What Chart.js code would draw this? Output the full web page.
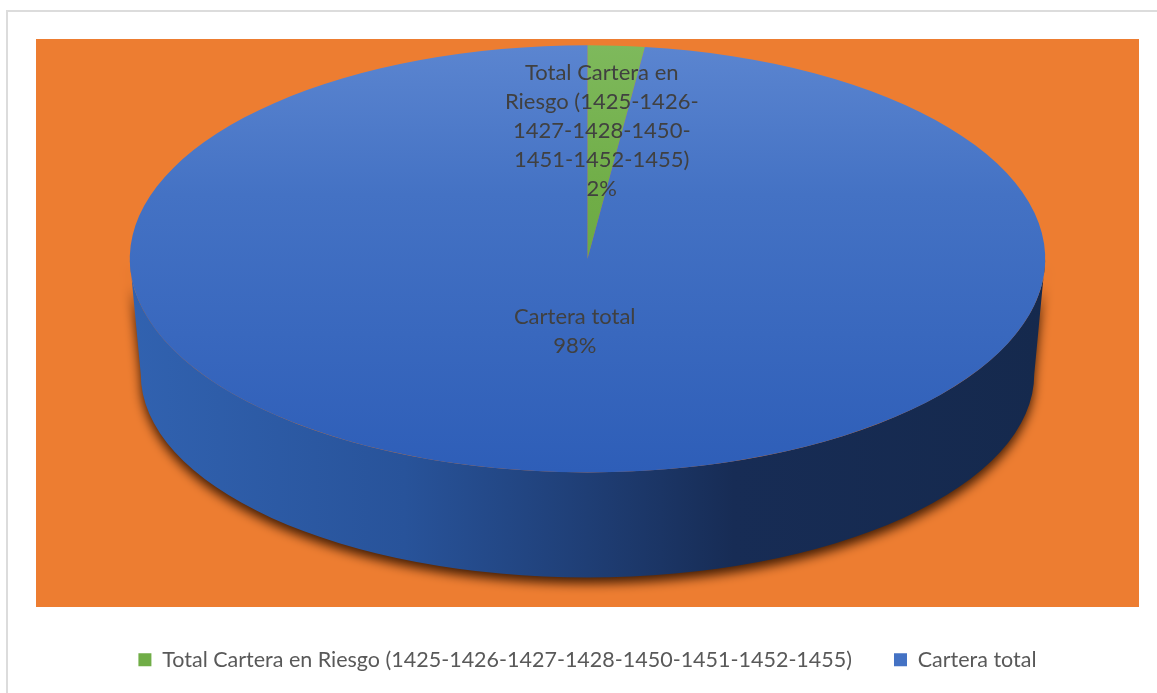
<!DOCTYPE html>
<html lang="es">
<head>
<meta charset="utf-8">
<title>Cartera total y cartera en riesgo</title>
<script src="https://cdn.jsdelivr.net/npm/chart.js@4.4.1/dist/chart.umd.min.js"></script>
<style>
  html, body { margin: 0; padding: 0; background: #fff; overflow: hidden; }
  /* marco gris del cuadro del gráfico */
  #marco { position: absolute; left: 6px; top: 10px; width: 1200px; height: 720px;
           border-left: 2px solid #dcdcdc; border-top: 2px solid #dcdcdc; }
  #grafico { position: absolute; left: 0; top: 0; }
</style>
</head>
<body>
<div id="marco"></div>
<canvas id="grafico" width="1157" height="693"></canvas>
<script>
// ===== Datos =====
const categorias = [
  'Total Cartera en Riesgo (1425-1426-1427-1428-1450-1451-1452-1455)',
  'Cartera total'
];
const valores = [2, 98];

// ===== Colores =====
const coloresPlanos = ['#70ad47', '#4472c4'];
const coloresArriba = ['#7eb95c', '#5b85d0'];
const coloresAbajo = ['#5ea13a', '#2e5eb8'];
const FUENTE = 'Lato, "Open Sans", sans-serif';

// Radio relativo donde va cada etiqueta de datos
const RADIO_ETIQUETA = [0.6, 0.34];

// Geometría de la elipse (cara superior y base) dentro del área del gráfico
function elipse(a) {
  const w = a.right - a.left, h = a.bottom - a.top;
  const rx = w * 0.415;
  return {
    cx: a.left + w * 0.5,
    cy: a.top + h * 0.387,
    rx,
    ry: h * 0.376,
    cyBase: a.top + h * 0.59,
    rxBase: rx * 0.976,
    ryBase: h * 0.358
  };
}

// Parte el texto después de espacios y guiones
function partir(ctx, texto, maxAncho) {
  const piezas = texto.match(/[^ -]+(-| |$)/g) || [texto];
  const lineas = [];
  let linea = '';
  piezas.forEach(p => {
    const prueba = linea + p;
    if (linea && ctx.measureText(prueba.trim()).width > maxAncho) {
      lineas.push(linea.trim());
      linea = p;
    } else {
      linea = prueba;
    }
  });
  if (linea) lineas.push(linea.trim());
  return lineas;
}

// ===== Plugin: fondo naranja, lateral 3D y etiquetas =====
const pastel3D = {
  id: 'pastel3D',
  beforeDraw(chart) {
    const { ctx, chartArea: a } = chart;
    ctx.save();
    ctx.fillStyle = '#ed7d31';
    ctx.fillRect(a.left, a.top, a.right - a.left, a.bottom - a.top);
    ctx.restore();
  },
  beforeDatasetsDraw(chart) {
    const { ctx, chartArea: a } = chart;
    const arco = chart.getDatasetMeta(0).data[0];
    const e = elipse(a);

    // lateral del cilindro (solo la mitad delantera se ve)
    ctx.save();
    ctx.beginPath();
    ctx.ellipse(e.cx, e.cyBase, e.rxBase, e.ryBase, 0, 0, Math.PI);
    ctx.lineTo(e.cx - e.rx, e.cy);
    ctx.ellipse(e.cx, e.cy, e.rx, e.ry, 0, Math.PI, 0, true);
    ctx.closePath();
    const g = ctx.createLinearGradient(e.cx - e.rx, 0, e.cx + e.rx, 0);
    g.addColorStop(0, '#3162b0');
    g.addColorStop(0.3, '#28539a');
    g.addColorStop(0.5, '#1f3e75');
    g.addColorStop(0.66, '#172c55');
    g.addColorStop(1, '#15294d');
    ctx.fillStyle = g;
    ctx.shadowColor = 'rgba(50, 20, 0, 0.9)';
    ctx.shadowBlur = 11;
    ctx.shadowOffsetY = 6;
    ctx.fill();
    ctx.restore();

    // la cara superior se dibuja aplastada en elipse
    ctx.save();
    ctx.translate(e.cx, e.cy);
    ctx.scale(e.rx / arco.outerRadius, e.ry / arco.outerRadius);
    ctx.translate(-arco.x, -arco.y);
  },
  afterDatasetsDraw(chart) {
    const { ctx, chartArea: a } = chart;
    ctx.restore();

    const e = elipse(a);
    const total = valores.reduce((s, v) => s + v, 0);
    ctx.save();
    ctx.font = '22px ' + FUENTE;
    ctx.fillStyle = '#404040';
    ctx.textAlign = 'center';
    ctx.textBaseline = 'middle';
    chart.getDatasetMeta(0).data.forEach((arco, i) => {
      const medio = (arco.startAngle + arco.endAngle) / 2;
      const f = RADIO_ETIQUETA[i];
      const x = e.cx + e.rx * f * Math.cos(medio);
      const y = e.cy + e.ry * f * Math.sin(medio);
      const pct = Math.round(valores[i] / total * 100) + '%';
      const lineas = partir(ctx, categorias[i], 200).concat(pct);
      const alto = 29;
      const y0 = y - (lineas.length - 1) * alto / 2;
      lineas.forEach((l, k) => ctx.fillText(l, x - 3, y0 + k * alto));
    });
    ctx.restore();
  }
};

// ===== Gráfico =====
const ctx = document.getElementById('grafico').getContext('2d');
new Chart(ctx, {
  type: 'pie',
  data: {
    labels: categorias,
    datasets: [{
      data: valores,
      borderWidth: 0,
      clip: false,
      backgroundColor: c => {
        const area = c.chart.chartArea;
        if (!area) return coloresPlanos[c.dataIndex];
        const g = c.chart.ctx.createLinearGradient(0, area.top, 0, area.bottom);
        g.addColorStop(0, coloresArriba[c.dataIndex]);
        g.addColorStop(0.35, coloresPlanos[c.dataIndex]);
        g.addColorStop(1, coloresAbajo[c.dataIndex]);
        return g;
      }
    }]
  },
  options: {
    responsive: false,
    animation: false,
    events: [],
    devicePixelRatio: 1,
    layout: { padding: { left: 36, right: 18, top: 39, bottom: 12.5 } },
    plugins: {
      tooltip: { enabled: false },
      legend: {
        position: 'bottom',
        labels: {
          color: '#595959',
          font: { family: FUENTE, size: 21.5 },
          boxWidth: 13,
          boxHeight: 13,
          padding: 42,
          generateLabels: chart => {
            const base = Chart.overrides.pie.plugins.legend.labels.generateLabels(chart);
            return base.map((it, i) => ({ ...it, fillStyle: coloresPlanos[i], strokeStyle: coloresPlanos[i], lineWidth: 0 }));
          }
        }
      }
    }
  },
  plugins: [pastel3D]
});
</script>
</body>
</html>
